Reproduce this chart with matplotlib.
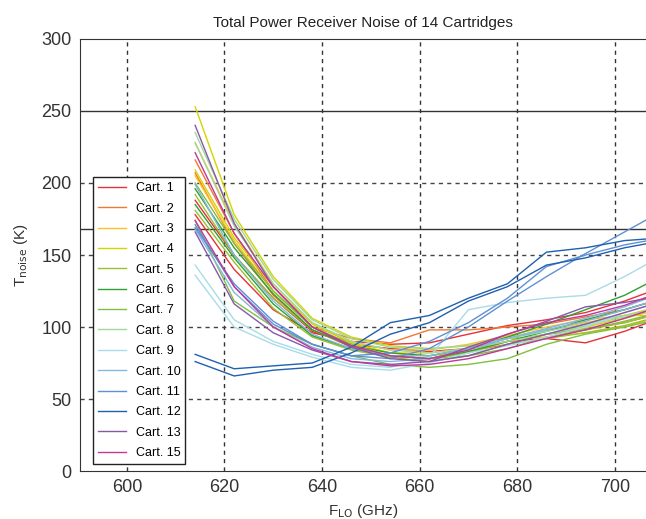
import numpy as np
import matplotlib
matplotlib.use("Agg")
import matplotlib.pyplot as plt

plt.rcParams['font.family'] = ['Liberation Sans', 'DejaVu Sans']

freq = [614, 622, 630, 638, 646, 654, 662, 670, 678, 686, 694, 702, 710]

carts = ["Cart. 1", "Cart. 2", "Cart. 3", "Cart. 4", "Cart. 5", "Cart. 6", "Cart. 7",
         "Cart. 8", "Cart. 9", "Cart. 10", "Cart. 11", "Cart. 12", "Cart. 13", "Cart. 15"]
colors = ["#e8303a", "#f07830", "#ffc020", "#d4d400", "#9ac030", "#30a030", "#80c040",
          "#a0d8a0", "#a8dce8", "#80b8e0", "#6090d4", "#2060b0", "#8858a8", "#c03898"]

# two polarisations per cartridge
pol_a = [
    [188, 150, 120, 97, 88, 85, 83, 85, 90, 92, 89, 97, 107],
    [216, 165, 125, 100, 92, 89, 98, 98, 100, 102, 107, 112, 120],
    [228, 172, 130, 103, 90, 84, 84, 88, 94, 100, 105, 108, 108],
    [253, 178, 135, 106, 93, 87, 85, 87, 92, 93, 96, 100, 108],
    [192, 150, 120, 98, 87, 80, 78, 82, 90, 95, 99, 103, 110],
    [196, 155, 123, 98, 87, 82, 80, 85, 93, 102, 112, 122, 136],
    [174, 118, 100, 88, 80, 74, 72, 74, 78, 88, 95, 100, 106],
    [235, 175, 133, 105, 92, 86, 85, 87, 92, 97, 102, 108, 114],
    [143, 105, 90, 81, 74, 72, 79, 112, 117, 120, 122, 135, 150],
    [199, 150, 118, 95, 85, 80, 80, 85, 92, 98, 104, 112, 120],
    [171, 128, 102, 88, 80, 82, 90, 103, 120, 142, 150, 157, 162],
    [81, 71, 73, 75, 86, 103, 108, 120, 130, 152, 155, 160, 162],
    [240, 172, 128, 100, 86, 78, 76, 86, 95, 104, 114, 117, 122],
    [221, 165, 128, 100, 87, 80, 78, 84, 95, 103, 108, 115, 125],
]
pol_b = [
    [178, 140, 112, 96, 90, 88, 89, 95, 101, 105, 110, 118, 128],
    [207, 158, 122, 98, 86, 80, 78, 83, 88, 95, 98, 103, 110],
    [205, 160, 125, 100, 88, 82, 82, 85, 93, 98, 103, 108, 115],
    [209, 162, 128, 102, 89, 82, 80, 83, 90, 95, 100, 106, 113],
    [181, 145, 113, 93, 84, 79, 76, 80, 88, 92, 96, 101, 108],
    [185, 148, 116, 94, 85, 80, 78, 83, 90, 97, 105, 112, 120],
    [200, 158, 125, 100, 88, 80, 78, 80, 85, 93, 98, 104, 111],
    [228, 170, 130, 103, 90, 84, 82, 85, 90, 95, 101, 107, 113],
    [136, 100, 88, 79, 72, 70, 75, 82, 87, 93, 100, 110, 118],
    [168, 124, 100, 86, 78, 76, 78, 84, 92, 99, 106, 114, 124],
    [169, 130, 104, 88, 80, 78, 85, 100, 118, 135, 151, 166, 181],
    [76, 66, 70, 72, 82, 95, 103, 118, 128, 143, 148, 155, 160],
    [166, 116, 96, 84, 76, 74, 76, 80, 88, 95, 102, 110, 118],
    [174, 128, 100, 85, 76, 73, 74, 78, 85, 92, 98, 106, 115],
]

fig = plt.figure(figsize=(6.46, 5.19), dpi=100)
ax = fig.add_axes([80 / 646, 48 / 519, 566 / 646, 432 / 519])

for xv in [600, 620, 640, 660, 680, 700]:
    ax.axvline(xv, color="#333333", lw=1, ls=(0, (3, 3)), zorder=1)
for yv in [50, 100, 150, 200]:
    ax.axhline(yv, color="#444444", lw=1, ls=(0, (3, 3)), zorder=1)
for yv in [250, 168]:
    ax.axhline(yv, color="#333333", lw=1, zorder=1)

for i in range(len(carts)):
    ax.plot(freq, pol_a[i], color=colors[i], lw=1, label=carts[i], zorder=3)
    ax.plot(freq, pol_b[i], color=colors[i], lw=1, zorder=3)

ax.set_xlim(590.4, 706.4)
ax.set_ylim(0, 300)
ax.set_xticks([600, 620, 640, 660, 680, 700])
ax.set_yticks([0, 50, 100, 150, 200, 250, 300])
ax.tick_params(length=0, labelsize=13, labelcolor="#333333", pad=6)
ax.spines['right'].set_visible(False)
for s in ['left', 'bottom', 'top']:
    ax.spines[s].set_color("#333333")

ax.set_title("Total Power Receiver Noise of 14 Cartridges", fontsize=11, color="#222222", pad=9)
ax.set_xlabel(r"F$_{\mathrm{LO}}$ (GHz)", fontsize=11, color="#333333", labelpad=4)
ax.set_ylabel(r"T$_{\mathrm{noise}}$ (K)", fontsize=11, color="#333333", labelpad=8)

leg = ax.legend(loc="lower left", bbox_to_anchor=(0.023, 0.016), borderaxespad=0,
                fontsize=9, labelspacing=0.67, handlelength=2.2, frameon=True,
                fancybox=False, edgecolor="#222222", framealpha=1)
leg.get_frame().set_linewidth(1)

fig.savefig("out.png", dpi=100)
